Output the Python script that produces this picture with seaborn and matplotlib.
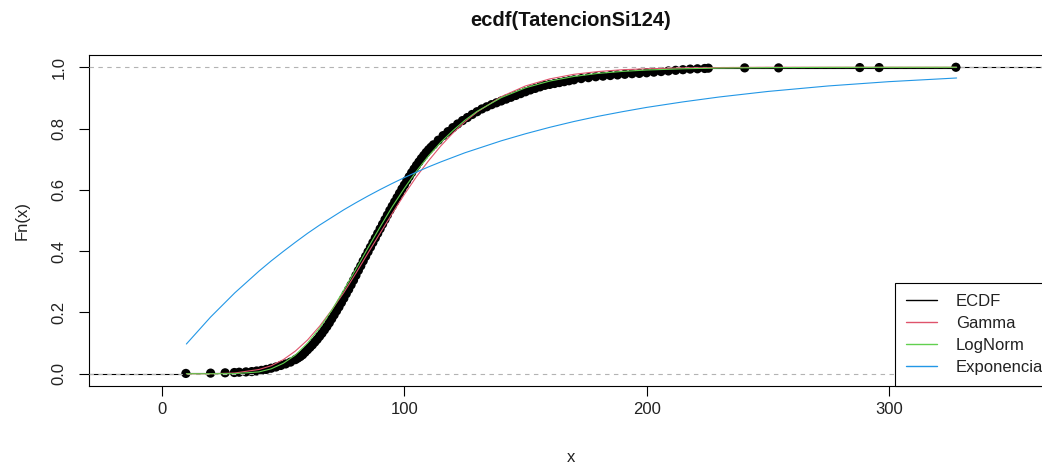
import matplotlib
matplotlib.use("Agg")
import matplotlib.pyplot as plt
import seaborn as sns
from matplotlib.lines import Line2D

# ---------------- data ----------------
# ECDF knots: observation value and cumulative proportion
ecdf_x = [9.8, 20, 26, 29.8, 31.8, 34.6, 37, 39, 41, 43, 45, 47, 49, 51, 53, 55,
          56, 57, 58, 59, 60, 61, 62, 63, 64, 65, 66, 67, 68, 69, 70, 71, 72, 73,
          74, 75, 76, 77, 78, 79, 80, 81, 82, 83, 84, 85, 86, 87, 88, 89, 90, 91,
          92, 93, 94, 95, 96, 97, 98, 99, 100, 101, 102, 103, 104, 105, 106, 107,
          108, 109, 110, 111, 112,
          114, 116, 118, 120, 122, 124, 126, 128, 130, 132, 134, 136, 138, 140,
          142, 144, 146, 148, 150, 152, 154, 156, 158, 160, 162, 164, 166, 168,
          170, 173, 176, 179, 182, 185, 188, 191, 194, 197, 200, 203, 206, 209,
          212, 215, 218, 221, 224, 225.5, 240.5, 254.5, 288, 296, 327.7]
ecdf_F = [0.001, 0.002, 0.003, 0.004, 0.005, 0.006, 0.007, 0.009, 0.011, 0.014,
          0.018, 0.022, 0.027, 0.032, 0.038, 0.046,
          0.051, 0.056, 0.062, 0.070, 0.078, 0.086, 0.094, 0.103, 0.112, 0.122,
          0.132, 0.143, 0.154, 0.166, 0.179, 0.192, 0.205, 0.218, 0.232, 0.246,
          0.261, 0.275, 0.290, 0.305, 0.321, 0.337, 0.352, 0.368, 0.383, 0.398,
          0.413, 0.428, 0.443, 0.458, 0.473, 0.488, 0.503, 0.518, 0.533, 0.547,
          0.561, 0.575, 0.589, 0.603, 0.616, 0.630, 0.643, 0.656, 0.668, 0.680,
          0.691, 0.702, 0.712, 0.722, 0.731, 0.739, 0.747,
          0.762, 0.777, 0.790, 0.803, 0.815, 0.826, 0.836, 0.846, 0.855, 0.864,
          0.871, 0.878, 0.884, 0.890, 0.896, 0.902, 0.908, 0.914, 0.920, 0.926,
          0.931, 0.936, 0.941, 0.944, 0.947, 0.950, 0.953, 0.956, 0.959, 0.963,
          0.966, 0.969, 0.971, 0.973, 0.975, 0.977, 0.979, 0.980, 0.982, 0.984,
          0.986, 0.988, 0.990, 0.992, 0.994, 0.995, 0.996, 0.997, 0.998, 0.998,
          0.999, 0.999, 1.000]

# fitted CDF curves, evaluated on a grid of x values
fit_x = [10, 20, 30, 40, 45, 50, 55, 60, 65, 70, 75, 80, 85, 90, 95, 100, 105,
         110, 115, 120, 125, 130, 140, 150, 160, 170, 180, 190, 200, 215, 230,
         250, 275, 300, 328]
gamma_F = [0.0, 0.0, 0.0024, 0.014, 0.026, 0.046, 0.074, 0.110, 0.155, 0.208,
           0.265, 0.328, 0.394, 0.459, 0.523, 0.585, 0.643, 0.695, 0.743, 0.785,
           0.822, 0.854, 0.904, 0.939, 0.962, 0.977, 0.986, 0.992, 0.995, 0.998,
           0.999, 1.0, 1.0, 1.0, 1.0]
lognorm_F = [0.0, 0.0, 0.0004, 0.006, 0.016, 0.034, 0.061, 0.100, 0.149, 0.207,
             0.273, 0.341, 0.411, 0.479, 0.545, 0.605, 0.661, 0.711, 0.755, 0.793,
             0.827, 0.856, 0.901, 0.933, 0.955, 0.970, 0.980, 0.9865, 0.991,
             0.995, 0.9974, 0.9988, 0.9996, 0.9998, 0.9999]
expo_F = [0.097, 0.185, 0.264, 0.335, 0.368, 0.399, 0.429, 0.458, 0.485, 0.510,
          0.535, 0.558, 0.580, 0.601, 0.621, 0.640, 0.658, 0.675, 0.691, 0.706,
          0.721, 0.734, 0.760, 0.783, 0.804, 0.823, 0.840, 0.855, 0.869, 0.887,
          0.903, 0.921, 0.939, 0.953, 0.965]

series_names = ["ECDF", "Gamma", "LogNorm", "Exponencia"]
series_colors = ["#000000", "#DF536B", "#61D04F", "#2297E6"]

x_ticks = [0, 100, 200, 300]
y_ticks = [0.0, 0.2, 0.4, 0.6, 0.8, 1.0]
y_ticklabels = ["0.0", "0.2", "0.4", "0.6", "0.8", "1.0"]

# ---------------- figure ----------------
sns.set_theme(style="white")
plt.rcParams["font.family"] = ["Liberation Sans", "DejaVu Sans"]

W, H = 1042, 468
fig = plt.figure(figsize=(W / 100, H / 100), dpi=100)
left_px, right_px, top_px, bottom_px = 89, 1054, 55, 386
ax = fig.add_axes([left_px / W, (H - bottom_px) / H,
                   (right_px - left_px) / W, (bottom_px - top_px) / H])

xlim = (-30.2, 368.2)
ylim = (-0.04, 1.04)
ax.set_xlim(*xlim)
ax.set_ylim(*ylim)

# ECDF horizontal segments
ax.hlines([0.0], xlim[0], ecdf_x[0], colors="black", lw=0.8, zorder=2)
ax.hlines(ecdf_F[:-1], ecdf_x[:-1], ecdf_x[1:], colors="black", lw=0.8, zorder=2)
ax.hlines([ecdf_F[-1]], ecdf_x[-1], xlim[1], colors="black", lw=0.8, zorder=2)
sns.scatterplot(x=ecdf_x, y=ecdf_F, color="black", s=44, edgecolor="none",
                linewidth=0, ax=ax, zorder=3, legend=False)

# reference lines at 0 and 1
for yv in (0.0, 1.0):
    ax.axhline(yv, color="#B3B3B3", lw=0.8, ls=(0, (4, 4)), zorder=4)

# fitted curves
for vals, col in zip([gamma_F, lognorm_F, expo_F], series_colors[1:]):
    sns.lineplot(x=fit_x, y=vals, color=col, lw=0.8, ax=ax, sort=False,
                 estimator=None, legend=False, zorder=5)

# axes styling
for sp in ax.spines.values():
    sp.set_visible(True)
    sp.set_color("black")
    sp.set_linewidth(0.8)

ax.set_xticks(x_ticks)
ax.set_xticklabels([str(t) for t in x_ticks])
ax.set_yticks(y_ticks)
ax.set_yticklabels(y_ticklabels, rotation=90, va="center")
ax.tick_params(axis="both", which="both", direction="out", length=7, width=0.8,
               color="black", labelsize=12, labelcolor="#222222",
               bottom=True, left=True, top=False, right=False)
ax.tick_params(axis="x", pad=4.5)
ax.tick_params(axis="y", pad=9)

ax.set_xlabel("x", fontsize=12, color="#222222", labelpad=24)
ax.set_ylabel("Fn(x)", fontsize=12, color="#222222", labelpad=16)

fig.text(571 / W, 1 - 20 / H, "ecdf(TatencionSi124)", ha="center", va="center",
         fontsize=14.5, fontweight="bold", color="#111111")

handles = [Line2D([0], [0], color=c, lw=1.0) for c in series_colors]
leg = ax.legend(handles, series_names, loc="lower left",
                bbox_to_anchor=((895 - left_px) / (right_px - left_px), 0.0),
                frameon=True, fancybox=False, edgecolor="black", framealpha=1,
                borderaxespad=0, fontsize=12, handlelength=1.9,
                handletextpad=1.1, labelspacing=0.42, borderpad=0.65)
leg.get_frame().set_linewidth(0.8)
for t in leg.get_texts():
    t.set_color("#222222")

fig.savefig("out.png", dpi=100)
